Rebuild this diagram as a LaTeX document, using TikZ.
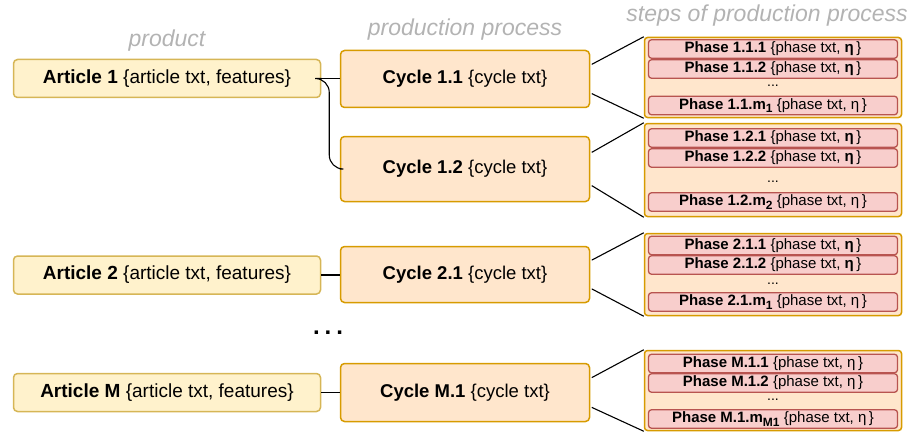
\documentclass[tikz,border=0pt]{standalone}
\usepackage{fontspec}
\setmainfont{Liberation Sans}
\usetikzlibrary{calc}
\definecolor{artF}{HTML}{FFF2CC}
\definecolor{artB}{HTML}{D6B656}
\definecolor{cycF}{HTML}{FFE6CC}
\definecolor{cycB}{HTML}{D79B00}
\definecolor{phF}{HTML}{F8CECC}
\definecolor{phB}{HTML}{B85450}
\definecolor{hdr}{HTML}{B3B3B3}
\newcommand{\subb}[1]{\raisebox{-3.5pt}{\fontsize{12}{12}\selectfont\bfseries #1}}
\tikzset{
  article/.style={draw=artB, fill=artF, rounded corners=4pt, line width=1.5pt,
    minimum width=307pt, minimum height=38pt, inner sep=0pt,
    font=\fontsize{19}{22}\selectfont},
  cycle/.style={draw=cycB, fill=cycF, rounded corners=4pt, line width=1.5pt,
    minimum width=249pt, inner sep=0pt, font=\fontsize{18.5}{22}\selectfont},
  phasegroup/.style={draw=cycB, fill=cycF, rounded corners=3pt, line width=1.5pt,
    minimum width=257pt, inner sep=0pt},
  phase/.style={draw=phB, fill=phF, rounded corners=3pt, line width=1.3pt,
    minimum width=249pt, minimum height=18.5pt, inner sep=0pt,
    font=\fontsize{15}{17}\selectfont},
  phdots/.style={inner sep=0pt, anchor=base, font=\fontsize{14}{15}\selectfont},
  header/.style={anchor=base, text=hdr, inner sep=0pt,
    font=\fontsize{23}{26}\selectfont\itshape},
  conn/.style={draw=black, line width=1.1pt},
}
\begin{document}
\begin{tikzpicture}[x=1pt,y=-1pt]
\useasboundingbox (0,0) rectangle (909,433);

% headers
\node[header] (h1) at (167,47) {product};
\node[header] (h2) at (465,36) {production process};
\node[header] (h3) at (767,22) {steps of production process};

% articles
\node[article] (a1) at (167,78.5) {\textbf{Article 1} \{article txt, features\}};
\node[article] (a2) at (167,275) {\textbf{Article 2} \{article txt, features\}};
\node[article] (aM) at (167,392.5) {\textbf{Article M} \{article txt, features\}};

% cycles
\node[cycle, minimum height=57pt] (c11) at (465,79) {\textbf{Cycle 1.1} \{cycle txt\}};
\node[cycle, minimum height=65pt] (c12) at (465,169) {\textbf{Cycle 1.2} \{cycle txt\}};
\node[cycle, minimum height=56pt] (c21) at (465,274.5) {\textbf{Cycle 2.1} \{cycle txt\}};
\node[cycle, minimum height=58pt] (cM1) at (465,392.5) {\textbf{Cycle M.1} \{cycle txt\}};

% big dots
\node[inner sep=0pt, font=\fontsize{24}{26}\selectfont\bfseries] (dd) at (328,333) {.\hspace{5pt}.\hspace{5pt}.};

% phase groups
\node[phasegroup, minimum height=80pt] (g11) at (773,77.5) {};
\node[phasegroup, minimum height=93pt] (g12) at (773,170) {};
\node[phasegroup, minimum height=82pt] (g21) at (773,274.5) {};
\node[phasegroup, minimum height=80pt] (gM1) at (773,390.5) {};

% phases group 1.1
\node[phase] (p111) at (773,49) {\textbf{Phase 1.1.1} \{phase txt, \textbf{η}\,\}};
\node[phase] (p112) at (773,69) {\textbf{Phase 1.1.2} \{phase txt, \textbf{η}\,\}};
\node[phdots] (d11) at (773,87) {...};
\node[phase] (p11m) at (773,105.5) {\textbf{Phase 1.1.m}\subb{1} \{phase txt, η\,\}};

% phases group 1.2
\node[phase] (p121) at (773,138) {\textbf{Phase 1.2.1} \{phase txt, \textbf{η}\,\}};
\node[phase] (p122) at (773,158) {\textbf{Phase 1.2.2} \{phase txt, \textbf{η}\,\}};
\node[phdots] (d12) at (773,182) {...};
\node[phase] (p12m) at (773,202) {\textbf{Phase 1.2.m}\subb{2} \{phase txt, η\,\}};

% phases group 2.1
\node[phase] (p211) at (773,245.5) {\textbf{Phase 2.1.1} \{phase txt, \textbf{η}\,\}};
\node[phase] (p212) at (773,265) {\textbf{Phase 2.1.2} \{phase txt, \textbf{η}\,\}};
\node[phdots] (d21) at (773,284) {...};
\node[phase] (p21m) at (773,302) {\textbf{Phase 2.1.m}\subb{1} \{phase txt, η\,\}};

% phases group M.1
\node[phase] (pM11) at (773,363.5) {\textbf{Phase M.1.1} \{phase txt, η\,\}};
\node[phase] (pM12) at (773,383) {\textbf{Phase M.1.2} \{phase txt, η\,\}};
\node[phdots] (dM1) at (773,400) {...};
\node[phase] (pM1m) at (773,419) {\textbf{Phase M.1.m}\subb{M1} \{phase txt, η\,\}};

% connectors article -> cycle
\draw[conn] (a1.east) -- (c11.west |- a1.east);
\draw[conn, rounded corners=14pt] (a1.east) -- ++(8,0) |- (c12.west);
\draw[conn] (a2.east) -- (c21.west |- a2.east);
\draw[conn] (aM.east) -- (cM1.west |- aM.east);

% connectors cycle -> phase group
\foreach \c/\g in {c11/g11, c12/g12, c21/g21, cM1/gM1}{
  \draw[conn] ($(\c.north east)!0.25!(\c.south east)+(1.5,0)$) -- (\g.north west);
  \draw[conn] ($(\c.north east)!0.75!(\c.south east)+(1.5,0)$) -- (\g.south west);
}
\end{tikzpicture}
\end{document}
